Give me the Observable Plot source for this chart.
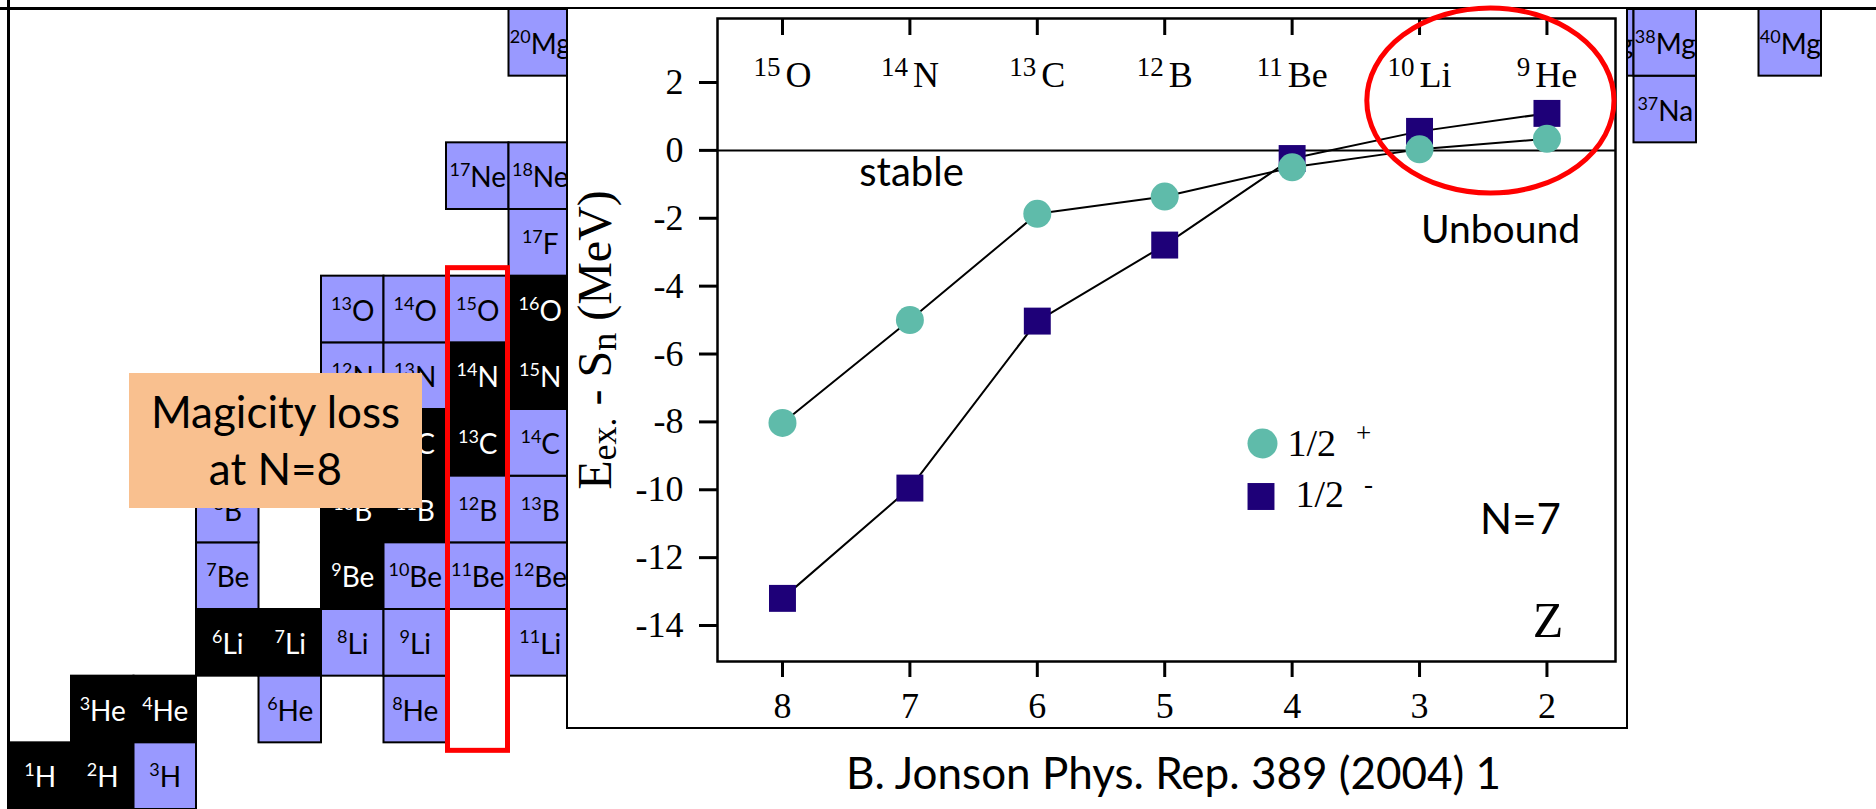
<!DOCTYPE html>
<html><head><meta charset="utf-8">
<script src="https://cdn.jsdelivr.net/npm/d3@7"></script>
<script src="https://cdn.jsdelivr.net/npm/@observablehq/plot@0.6"></script>
<style>
html,body{margin:0;padding:0;background:#fff;}
#page{position:relative;width:1876px;height:809px;overflow:hidden;background:#fff;}
#page > *{position:absolute;}
#nuclides{left:0;top:0;}
#magic{left:129px;top:373px;width:293px;height:135px;box-sizing:border-box;padding-top:9.5px;background:#F9C08F;font-family:Lato,sans-serif;font-size:44px;line-height:57px;color:#000;text-align:center;white-space:nowrap;}
#insetBox{left:566px;top:7px;width:1062px;height:722px;box-sizing:border-box;border:2px solid #000;background:#fff;}
#inset{left:568px;top:9px;}
#caption{left:846px;top:750px;font-family:Lato,sans-serif;font-size:44px;line-height:44px;color:#000;white-space:nowrap;}
</style>
</head>
<body>
<div id="page">
  <div id="nuclides"></div>
  <div id="magic">Magicity loss<br>at N=8</div>
  <div id="insetBox"></div>
  <div id="inset"></div>
  <div id="caption">B. Jonson Phys. Rep. 389 (2004) 1</div>
</div>
<script>
// ---------- background chart of nuclides ----------
const elements = ["H","He","Li","Be","B","C","N","O","F","Ne","Na","Mg"]; // Z = 1..12
const stableIsotopes = ["1H","2H","3He","4He","6Li","7Li","9Be","10B","11B","12C","13C","14N","15N","16O"];
const radioIsotopes = ["3H","6He","8He","8Li","9Li","11Li","7Be","10Be","11Be","12Be","8B","12B","13B",
  "14C","12N","13N","13O","14O","15O","17F","17Ne","18Ne","20Mg","37Na","37Mg","38Mg","40Mg"];
const highlightN = 7;          // the N = 7 column
const highlightZ = [2, 8];     // from He to O

// ---------- inset: N = 7 isotones ----------
const Zs = [8, 7, 6, 5, 4, 3, 2];
const isotoneA = [15, 14, 13, 12, 11, 10, 9];
const isotoneSym = ["O", "N", "C", "B", "Be", "Li", "He"];
const halfPlus = [-8.03, -5.0, -1.87, -1.36, -0.5, 0.03, 0.34];    // 1/2+ states
const halfMinus = [-13.2, -9.95, -5.03, -2.79, -0.24, 0.56, 1.09]; // 1/2- states
const yTicks = [2, 0, -2, -4, -6, -8, -10, -12, -14];
const unboundRegion = {Z1: 1.47, Z2: 3.41, E1: -1.27, E2: 4.18};

const SERIF = "Liberation Serif, Times New Roman, serif";
const SANS = "Lato, sans-serif";
const TEAL = "#5FBBAA", INDIGO = "#1E0078", BLUE = "#9999FF";

function parseIso(s, stable) {
  const m = s.match(/^(\d+)([A-Za-z]+)$/);
  const A = +m[1], sym = m[2], Z = elements.indexOf(sym) + 1;
  return {A, sym, Z, N: A - Z, stable};
}
const cells = [...stableIsotopes.map(s => parseIso(s, true)), ...radioIsotopes.map(s => parseIso(s, false))];

// rich text (super/subscripts) applied after rendering
const RICH = {
  28: {size: 18, rise: 11, gap: 0},
  36: {size: 27, rise: 11, gap: 5},
  38: {size: 27, rise: 14, gap: 20},
  48: {size: 36, drop: 5, rise: 14, gap: 0}
};
function richify(svg) {
  svg.querySelectorAll("text").forEach(t => {
    const s = t.textContent;
    if (!/[\^_]/.test(s)) return;
    let el = t, fs = null;
    while (el && el !== svg.parentNode) {
      const a = el.getAttribute && el.getAttribute("font-size");
      if (a) { fs = parseFloat(a); break; }
      el = el.parentNode;
    }
    const p = RICH[fs] || {size: fs * 0.7, rise: fs * 0.35, drop: fs * 0.1, gap: 0};
    const re = /\^([^\^]*)\^|_([^_]*)_|([^\^_]+)/g;
    const segs = []; let m;
    while ((m = re.exec(s))) segs.push(m[1] !== undefined ? {k: "sup", v: m[1]} : m[2] !== undefined ? {k: "sub", v: m[2]} : {k: "n", v: m[3]});
    t.textContent = "";
    t.style.whiteSpace = "pre";
    let cur = 0, prev = null;
    for (const sg of segs) {
      const ts = document.createElementNS("http://www.w3.org/2000/svg", "tspan");
      const target = sg.k === "sup" ? -p.rise : sg.k === "sub" ? p.drop : 0;
      if (target !== cur) ts.setAttribute("dy", target - cur);
      cur = target;
      if (sg.k !== "n") ts.setAttribute("font-size", p.size);
      if (prev && ((prev === "sup") !== (sg.k === "sup")) && p.gap) ts.setAttribute("dx", p.gap);
      ts.textContent = sg.v;
      t.appendChild(ts);
      prev = sg.k;
    }
  });
}

const bg = Plot.plot({
  width: 1876, height: 809, margin: 0,
  x: {domain: [0, 30], range: [8.5, 1883.5], axis: null},
  y: {domain: [1, 13], range: [809, 9], axis: null},
  style: {background: "white", overflow: "visible"},
  marks: [
    Plot.rect(cells, {x1: "N", x2: d => d.N + 1, y1: "Z", y2: d => d.Z + 1,
      fill: d => d.stable ? "#000000" : BLUE, stroke: "#000", strokeWidth: 2}),
    Plot.text(cells, {x: d => d.N + 0.5, y: d => d.Z + 0.5, text: d => `^${d.A}^${d.sym}`,
      fill: d => d.stable ? "#ffffff" : "#000000", fontFamily: SANS, fontSize: 28, lineAnchor: "bottom", dy: 11}),
    Plot.rect([{N: highlightN, Z1: highlightZ[0], Z2: highlightZ[1]}], {
      x1: "N", x2: d => d.N + 1, y1: "Z1", y2: d => d.Z2 + 1,
      fill: "none", stroke: "#FF0000", strokeWidth: 5, insetTop: -8, insetBottom: -8, insetLeft: 1.5, insetRight: 1}),
    Plot.ruleY([13], {stroke: "#000", strokeWidth: 3, dy: -1}),
    Plot.ruleX([0], {stroke: "#000", strokeWidth: 3, dx: -0.5})
  ]
});
richify(bg);
document.getElementById("nuclides").appendChild(bg);

// inset
const W = 1058, H = 718, mL = 149, mR = 11, mT = 9, mB = 66;
const frameW = W - mL - mR, frameH = H - mT - mB;
const plusData = Zs.map((z, i) => ({Z: z, E: halfPlus[i]}));
const minusData = Zs.map((z, i) => ({Z: z, E: halfMinus[i]}));
const topLabels = Zs.map((z, i) => ({Z: z, A: isotoneA[i], sym: isotoneSym[i]}));
const legendRows = [{label: "1/2", sign: "+"}, {label: "1/2", sign: "-"}];

const inset = Plot.plot({
  width: W, height: H, marginLeft: mL, marginRight: mR, marginTop: mT, marginBottom: mB,
  x: {domain: [8.51, 1.462], axis: null},
  y: {domain: [-15.06, 3.886], axis: null},
  style: {background: "white", overflow: "visible"},
  marks: [
    Plot.ruleY([0], {stroke: "#000", strokeWidth: 2}),
    Plot.ruleX(Zs, {insetBottom: frameH - 17, stroke: "#000", strokeWidth: 3}),
    Plot.ruleX(Zs, {insetTop: frameH, insetBottom: -16, stroke: "#000", strokeWidth: 3}),
    Plot.ruleY(yTicks, {insetLeft: -18, insetRight: frameW, stroke: "#000", strokeWidth: 3}),
    Plot.text(Zs, {x: d => d, frameAnchor: "bottom", dy: 31, lineAnchor: "top", text: d => String(d),
      fontFamily: SERIF, fontSize: 36, fill: "#000"}),
    Plot.text(yTicks, {y: d => d, frameAnchor: "left", dx: -34, textAnchor: "end", text: d => String(d),
      fontFamily: SERIF, fontSize: 36, fill: "#000"}),
    Plot.text(topLabels, {x: "Z", frameAnchor: "top", dy: 68, lineAnchor: "bottom",
      text: d => `^${d.A}^${d.sym}`, fontFamily: SERIF, fontSize: 36, fill: "#000"}),
    Plot.text(["E_ex._ - S_n_ (MeV)"], {frameAnchor: "left", dx: -107, rotate: -90, textAnchor: "middle", lineAnchor: "bottom",
      text: d => d, fontFamily: SERIF, fontSize: 48, fill: "#000"}),
    Plot.line(minusData, {x: "Z", y: "E", stroke: "#000", strokeWidth: 2}),
    Plot.line(plusData, {x: "Z", y: "E", stroke: "#000", strokeWidth: 2}),
    Plot.dot(minusData, {x: "Z", y: "E", symbol: "square", r: 15.2, fill: INDIGO, stroke: "none"}),
    Plot.dot(plusData, {x: "Z", y: "E", r: 14, fill: TEAL, stroke: "none"}),
    // legend
    Plot.dot([legendRows[0]], {frameAnchor: "top-left", dx: 545, dy: 425, r: 15, fill: TEAL, stroke: "none"}),
    Plot.dot([legendRows[1]], {frameAnchor: "top-left", dx: 543.5, dy: 478, symbol: "square", r: 15.2, fill: INDIGO, stroke: "none"}),
    Plot.text([legendRows[0]], {frameAnchor: "top-left", dx: 570, dy: 437, textAnchor: "start", lineAnchor: "bottom",
      text: d => `${d.label}^${d.sign}^`, fontFamily: SERIF, fontSize: 38, fill: "#000"}),
    Plot.text([legendRows[1]], {frameAnchor: "top-left", dx: 578, dy: 488, textAnchor: "start", lineAnchor: "bottom",
      text: d => `${d.label}^${d.sign}^`, fontFamily: SERIF, fontSize: 38, fill: "#000"}),
    // annotations
    Plot.text(["stable"], {frameAnchor: "top-left", dx: 194, dy: 167, textAnchor: "middle", lineAnchor: "bottom", text: d => d,
      fontFamily: SANS, fontSize: 40, fill: "#000"}),
    Plot.text(["Unbound"], {frameAnchor: "top-left", dx: 783, dy: 224, textAnchor: "middle", lineAnchor: "bottom", text: d => d,
      fontFamily: SANS, fontSize: 39, fill: "#000"}),
    Plot.text(["N=7"], {frameAnchor: "top-left", dx: 803, dy: 515, textAnchor: "middle", lineAnchor: "bottom", text: d => d,
      fontFamily: SANS, fontSize: 42, fill: "#000"}),
    Plot.text(["Z"], {frameAnchor: "top-left", dx: 830.5, dy: 618, textAnchor: "middle", lineAnchor: "bottom", text: d => d,
      fontFamily: SERIF, fontSize: 50, fill: "#000"}),
    Plot.frame({stroke: "#000", strokeWidth: 2.5}),
    Plot.rect([unboundRegion], {x1: "Z1", x2: "Z2", y1: "E1", y2: "E2", rx: 1000, ry: 1000,
      fill: "none", stroke: "#FF0000", strokeWidth: 5})
  ]
});
richify(inset);
document.getElementById("inset").appendChild(inset);
</script>
</body></html>
